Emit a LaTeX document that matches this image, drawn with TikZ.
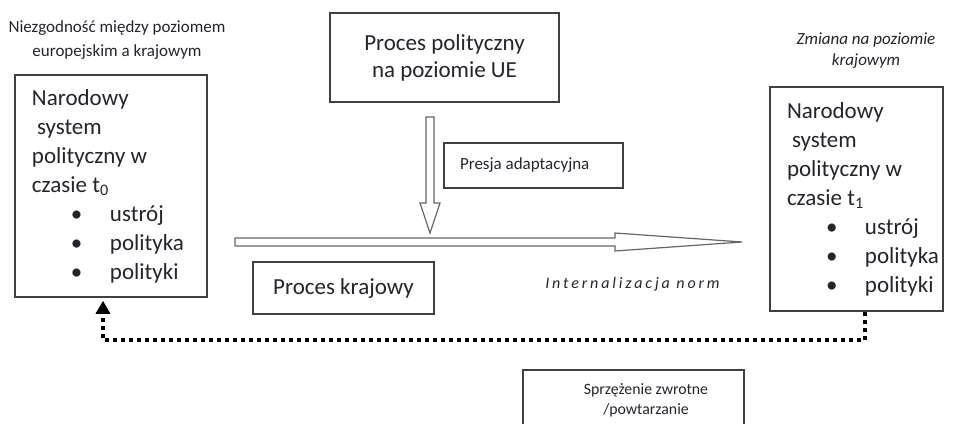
\documentclass[tikz,border=0pt]{standalone}
\usepackage{fontspec}
\setmainfont{Carlito}
\usetikzlibrary{positioning}
\usetikzlibrary{arrows.meta}
\definecolor{ink}{rgb}{0.14,0.14,0.17}
\definecolor{boxline}{rgb}{0.25,0.25,0.25}
\definecolor{arrowgray}{rgb}{0.4,0.4,0.4}

\newcommand{\pkt}[1]{\hspace*{19.5pt}\makebox[19.5pt][l]{\textbullet}#1}
\newcommand{\natspace}{\spaceskip=0pt\xspaceskip=0pt\relax}

\tikzset{
  box/.style={draw=boxline,line width=0.75pt,text=ink,inner sep=0pt},
  sysbox/.style={box,inner xsep=8.5pt,align=left,font=\fontsize{11.5}{14.5}\selectfont},
  bigbox/.style={box,align=center,font=\fontsize{11.5}{13.5}\selectfont},
  smallbox/.style={box,font=\fontsize{8.5}{10}\selectfont},
  note/.style={text=ink,align=center,inner sep=0pt},
  hollow/.style={draw=arrowgray,line width=0.6pt,fill=white},
  feedback/.style={line width=1.6pt,dash pattern=on 2pt off 2pt,
    -{Triangle[length=6.5pt,width=7pt]},shorten >=1.5pt}
}

\begin{document}
\begin{tikzpicture}[x=0.5pt,y=-0.5pt]

  \useasboundingbox (0,0) rectangle (953,423);
  \clip (0,0) rectangle (953,423);

  \node[sysbox,text width=79pt,minimum height=111pt] (ns0) at (111,186)
    {\natspace Narodowy\\ \hspace*{2.5pt}system\\ polityczny w\\ czasie t\textsubscript{0}\\
     \pkt{ustrój}\\ \pkt{polityka}\\ \pkt{polityki}};
  \node[sysbox,text width=69.5pt,minimum height=112pt] (ns1) at (856.5,199)
    {\natspace Narodowy\\ \hspace*{2.5pt}system\\ polityczny w\\ czasie t\textsubscript{1}\\
     \pkt{ustrój}\\ \pkt{polityka}\\ \pkt{polityki}};

  \node[bigbox,minimum width=114.5pt,minimum height=44.5pt] (eu) at (444.5,57.5)
    {Proces polityczny\\na poziomie UE};
  \node[smallbox,text width=73.5pt,inner xsep=8pt,minimum height=22.5pt,align=left]
    (presja) at (533.5,165.5) {\natspace Presja adaptacyjna};
  \node[bigbox,minimum width=90.5pt,minimum height=26pt] (kraj) at (343.5,288)
    {Proces krajowy};
  \node[smallbox,minimum width=110.5pt,minimum height=34pt,anchor=north] (sprz)
    at (633.5,369) {};
  \node[note,font=\fontsize{7.9}{10}\selectfont] (sprztxt) at (646,400)
    {Sprzężenie zwrotne\\/powtarzanie};

  \node[note,font=\fontsize{8.5}{12}\selectfont] (mis) at (117,40.5)
    {Niezgodność między poziomem\\europejskim a krajowym};
  \node[note,font=\fontsize{8.5}{10.5}\selectfont\itshape] (chg) at (866,50.5)
    {Zmiana na poziomie\\krajowym};
  \node[note,font=\fontsize{8}{10}\selectfont\itshape\addfontfeature{LetterSpace=18}]
    (norm) at (632.5,284) {Internalizacja norm};

  \draw[hollow] (426,117) -- (434,117) -- (434,203) -- (440,203) -- (430,233)
    -- (420,203) -- (426,203) -- cycle;
  \draw[hollow] (235,238) -- (615,238) -- (615,233) -- (742,242) -- (615,251)
    -- (615,246) -- (235,246) -- cycle;

  \coordinate (fbr) at (865,340);
  \coordinate (fbl) at (103,340);
  \draw[feedback] (ns1.south -| fbr) -- (fbr) -- (fbl) -- (ns0.south -| fbl);

\end{tikzpicture}
\end{document}
